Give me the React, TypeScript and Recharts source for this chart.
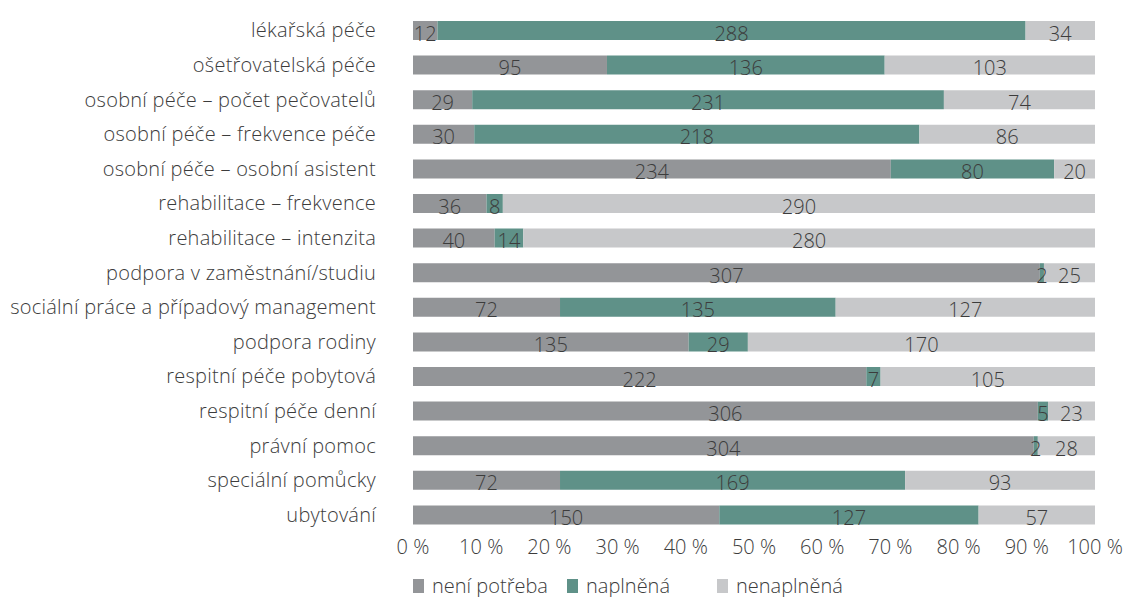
import { Bar, BarChart, LabelList, Legend, XAxis, YAxis } from "recharts"

const categories = [
  "lékařská péče",
  "ošetřovatelská péče",
  "osobní péče – počet pečovatelů",
  "osobní péče – frekvence péče",
  "osobní péče – osobní asistent",
  "rehabilitace – frekvence",
  "rehabilitace – intenzita",
  "podpora v zaměstnání/studiu",
  "sociální práce a případový management",
  "podpora rodiny",
  "respitní péče pobytová",
  "respitní péče denní",
  "právní pomoc",
  "speciální pomůcky",
  "ubytování",
]

const notNeeded = [12, 95, 29, 30, 234, 36, 40, 307, 72, 135, 222, 306, 304, 72, 150]
const fulfilled = [288, 136, 231, 218, 80, 8, 14, 2, 135, 29, 7, 5, 2, 169, 127]
const unfulfilled = [34, 103, 74, 86, 20, 290, 280, 25, 127, 170, 105, 23, 28, 93, 57]

const xTicks = [0, 0.1, 0.2, 0.3, 0.4, 0.5, 0.6, 0.7, 0.8, 0.9, 1]

const series = [
  { key: "notNeeded", name: "není potřeba", color: "#939598" },
  { key: "fulfilled", name: "naplněná", color: "#5f9188" },
  { key: "unfulfilled", name: "nenaplněná", color: "#c7c8ca" },
]

const data = categories.map((name, i) => ({
  name,
  notNeeded: notNeeded[i],
  fulfilled: fulfilled[i],
  unfulfilled: unfulfilled[i],
}))

const FONT = "'Open Sans', 'Noto Sans', sans-serif"
const TEXT = "#3c3c3c"
const FS = 20

function CategoryTick({ x, y, payload }: any) {
  return (
    <text
      x={x}
      y={y}
      dy={7}
      textAnchor="end"
      fill={TEXT}
      fontSize={FS}
      fontWeight={300}
      fontFamily={FONT}
      letterSpacing={0.25}
    >
      {payload.value}
    </text>
  )
}

function PercentTick({ x, y, payload }: any) {
  return (
    <text
      x={x}
      y={y}
      dy={14}
      textAnchor="middle"
      fill={TEXT}
      fontSize={FS}
      fontWeight={300}
      fontFamily={FONT}
    >
      {`${Math.round(payload.value * 100)} %`}
    </text>
  )
}

function LegendContent() {
  const positions = [413, 567, 717]
  return (
    <div style={{ position: "relative", height: 35, fontFamily: FONT }}>
      {series.map((s, i) => (
        <div
          key={s.key}
          style={{
            position: "absolute",
            left: positions[i],
            top: 13,
            display: "flex",
            alignItems: "center",
            gap: 8,
            color: TEXT,
            fontSize: FS,
            fontWeight: 300,
            lineHeight: "22px",
          }}
        >
          <span style={{ width: 11, height: 14, background: s.color, display: "inline-block" }} />
          <span>{s.name}</span>
        </div>
      ))}
    </div>
  )
}

export default function App() {
  return (
    <div style={{ position: "absolute", left: 0, top: 0, width: 1129, height: 597, background: "#fff" }}>
      <BarChart
        width={1129}
        height={597}
        data={data}
        layout="vertical"
        stackOffset="expand"
        barCategoryGap={0}
        margin={{ top: 13, right: 34, left: 0, bottom: 0 }}
      >
        <XAxis
          type="number"
          domain={[0, 1]}
          ticks={xTicks}
          axisLine={false}
          tickLine={false}
          tick={<PercentTick />}
          height={30}
          interval={0}
        />
        <YAxis
          type="category"
          dataKey="name"
          width={413}
          axisLine={false}
          tickLine={false}
          tick={<CategoryTick />}
          interval={0}
          tickSize={0}
          tickMargin={37}
        />
        <Legend
          verticalAlign="bottom"
          content={<LegendContent />}
          wrapperStyle={{ left: 0, width: 1129, bottom: 0, height: 35 }}
        />
        {series.map(s => (
          <Bar
            key={s.key}
            dataKey={s.key}
            name={s.name}
            stackId="a"
            fill={s.color}
            barSize={19}
            isAnimationActive={false}
          >
            <LabelList
              dataKey={s.key}
              position="center"
              fill={TEXT}
              fontSize={FS}
              fontWeight={300}
              fontFamily={FONT}
              dy={3}
            />
          </Bar>
        ))}
      </BarChart>
    </div>
  )
}
